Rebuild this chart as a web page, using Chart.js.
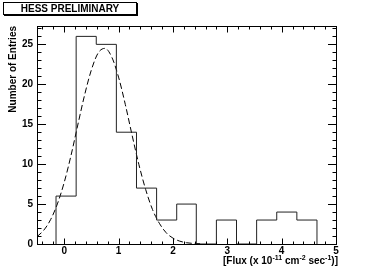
<!DOCTYPE html>
<html>
<head>
<meta charset="utf-8">
<script src="https://cdn.jsdelivr.net/npm/chart.js@4.4.0/dist/chart.umd.min.js"></script>
<style>
  body { margin: 0; background: #fff; }
  .wrap { position: relative; width: 374px; height: 271px; font-family: 'Liberation Sans', Arial, sans-serif; }
  canvas { display: block; }
  .pave { position: absolute; left: 3px; top: 2px; width: 132px; height: 11px; border: 1px solid #000; box-shadow: 1px 1px 0 #000;
          font-weight: bold; font-size: 10px; line-height: 11px; text-align: center; background: #fff; }
  .xtitle { position: absolute; right: 36px; top: 255px; font-weight: bold; font-size: 10px; line-height: 12px; white-space: nowrap; }
  .xtitle sup { font-size: 7px; vertical-align: 4px; line-height: 0; }
</style>
</head>
<body>
<div class="wrap">
  <canvas id="chart" width="374" height="271"></canvas>
  <div class="pave">HESS PRELIMINARY</div>
  <div class="xtitle">[Flux (x 10<sup>-11</sup> cm<sup>-2</sup> sec<sup>-1</sup>)]</div>
</div>
<script>
// histogram bins (edges) and entries
const binEdges = [-0.15, 0.22, 0.59, 0.96, 1.33, 1.70, 2.07, 2.43, 2.80, 3.17, 3.54, 3.91, 4.28, 4.65];
const binCounts = [6, 26, 25, 14, 7, 3, 5, 0, 3, 0, 3, 4, 3];

// dashed fit curve
const fitX = [-0.5, -0.375, -0.25, -0.125, 0, 0.125, 0.25, 0.375, 0.5, 0.625, 0.75, 0.875, 1, 1.125, 1.25, 1.375, 1.5, 1.625, 1.75, 1.875, 2, 2.125, 2.25, 2.375, 2.5];
const fitY = [0.92, 1.73, 3.05, 5.02, 7.7, 11.07, 14.9, 18.64, 21.8, 23.92, 24.5, 23.41, 20.9, 17.46, 13.6, 9.93, 6.8, 4.31, 2.6, 1.42, 0.74, 0.36, 0.16, 0.07, 0.03];

const xTicks = [0, 1, 2, 3, 4, 5];
const yTicks = [0, 5, 10, 15, 20, 25];

const font = { family: "'Liberation Sans', Arial, sans-serif", size: 10, weight: 'bold' };

const histPoints = [{ x: binEdges[0], y: 0 }];
binCounts.forEach((c, i) => histPoints.push({ x: binEdges[i + 1], y: c }));
histPoints.push({ x: binEdges[binEdges.length - 1], y: 0 });

// ROOT style frame with inward ticks on all four sides
const frameTicks = {
  id: 'frameTicks',
  afterDraw(chart) {
    const { ctx, chartArea: a, scales: { x, y } } = chart;
    const l = Math.round(a.left) + 0.5, r = Math.round(a.right) + 0.5;
    const t = Math.round(a.top) + 0.5, b = Math.round(a.bottom) + 0.5;
    ctx.save();
    ctx.strokeStyle = '#000';
    ctx.lineWidth = 1;
    ctx.beginPath();
    for (let i = -2; i <= 25; i++) {
      const px = Math.round(x.getPixelForValue(i / 5)) + 0.5;
      const len = i % 5 === 0 ? 6 : 3;
      ctx.moveTo(px, b); ctx.lineTo(px, b - len);
      ctx.moveTo(px, t); ctx.lineTo(px, t + len);
    }
    for (let v = 0; v <= 27; v++) {
      const py = Math.round(y.getPixelForValue(v)) + 0.5;
      const len = v % 5 === 0 ? 8.5 : 4;
      ctx.moveTo(l, py); ctx.lineTo(l + len, py);
      ctx.moveTo(r, py); ctx.lineTo(r - len, py);
    }
    ctx.stroke();
    ctx.strokeRect(l, t, r - l, b - t);
    ctx.restore();
  }
};

new Chart(document.getElementById('chart'), {
  type: 'line',
  data: {
    datasets: [
      {
        data: histPoints,
        stepped: 'after',
        borderColor: '#222',
        borderWidth: 1,
        pointRadius: 0,
        fill: false
      },
      {
        data: fitX.map((x, i) => ({ x: x, y: fitY[i] })),
        borderColor: '#000',
        borderWidth: 1,
        borderDash: [6, 3],
        cubicInterpolationMode: 'monotone',
        pointRadius: 0,
        fill: false
      }
    ]
  },
  options: {
    responsive: false,
    animation: false,
    layout: { padding: { left: 0, top: 26, right: 38, bottom: 0 } },
    plugins: { legend: { display: false }, tooltip: { enabled: false } },
    scales: {
      x: {
        type: 'linear',
        min: -0.5,
        max: 5,
        afterBuildTicks: (s) => { s.ticks = xTicks.map((v) => ({ value: v })); },
        afterFit: (s) => { s.height = 27; },
        grid: { display: false, drawTicks: false },
        border: { display: false },
        ticks: { padding: 1, color: '#000', font: font, maxRotation: 0, autoSkip: false }
      },
      y: {
        min: 0,
        max: 27.3,
        afterBuildTicks: (s) => { s.ticks = yTicks.map((v) => ({ value: v })); },
        afterFit: (s) => { s.width = 37; },
        grid: { display: false, drawTicks: false },
        border: { display: false },
        ticks: { padding: 4, color: '#000', font: font, autoSkip: false },
        title: { display: true, text: 'Number of Entries', align: 'end', color: '#000', font: font, padding: { top: 7, bottom: 0 } }
      }
    }
  },
  plugins: [frameTicks]
});
</script>
</body>
</html>
